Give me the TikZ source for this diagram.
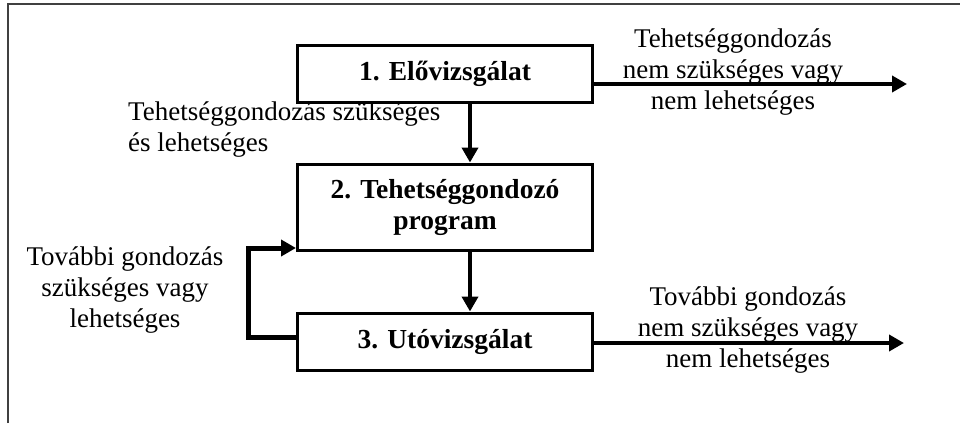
\documentclass[tikz,border=0pt]{standalone}
\usepackage{fontspec}
\setmainfont{Liberation Serif}
\usetikzlibrary{arrows.meta}

\begin{document}
\begin{tikzpicture}[x=1pt,y=-1pt,
  every node/.style={font=\fontsize{27}{31}\selectfont, inner sep=0pt},
  phase/.style={draw, line width=3pt, minimum width=295pt, font=\bfseries\fontsize{27.5}{31}\selectfont, align=center},
  arr/.style={line width=4pt, -{Triangle[length=15pt,width=16pt]}},
  note/.style={align=center}]
 \useasboundingbox (0,0) rectangle (960,423);
 \draw[black!75, line width=2pt] (8,423) -- (8,4) -- (960,4);

 \node[phase, minimum height=57pt] (pre) at (445,73.5) {1. Elővizsgálat};
 \node[phase, minimum height=86pt] (prog) at (445,207) {2. Tehetséggondozó\\program};
 \node[phase, minimum height=57pt] (post) at (445,341.5) {3. Utóvizsgálat};

 \coordinate (exit1) at (907,84);
 \coordinate (exit2) at (904,343);
 \coordinate (loop) at (248,248);

 \draw[arr] ([xshift=25pt]pre.south) -- ([xshift=25pt]prog.north);
 \draw[arr] ([xshift=25pt]prog.south) -- ([xshift=25pt]post.north);
 \draw[arr] ([yshift=-10.5pt]pre.east) -- (exit1);
 \draw[arr] ([yshift=-1.5pt]post.east) -- (exit2);
 \draw[arr, line width=5pt] ([yshift=4.5pt]post.west) -| (loop) -- ([yshift=-41pt]prog.west);

 \node[note, anchor=west, align=left] (yes) at (128,130) {Tehetséggondozás szükséges\\és lehetséges};
 \node[note] (no1) at (733,72) {Tehetséggondozás\\nem szükséges vagy\\nem lehetséges};
 \node[note] (again) at (125,290) {További gondozás\\szükséges vagy\\lehetséges};
 \node[note] (no2) at (748,330) {További gondozás\\nem szükséges vagy\\nem lehetséges};
\end{tikzpicture}
\end{document}
